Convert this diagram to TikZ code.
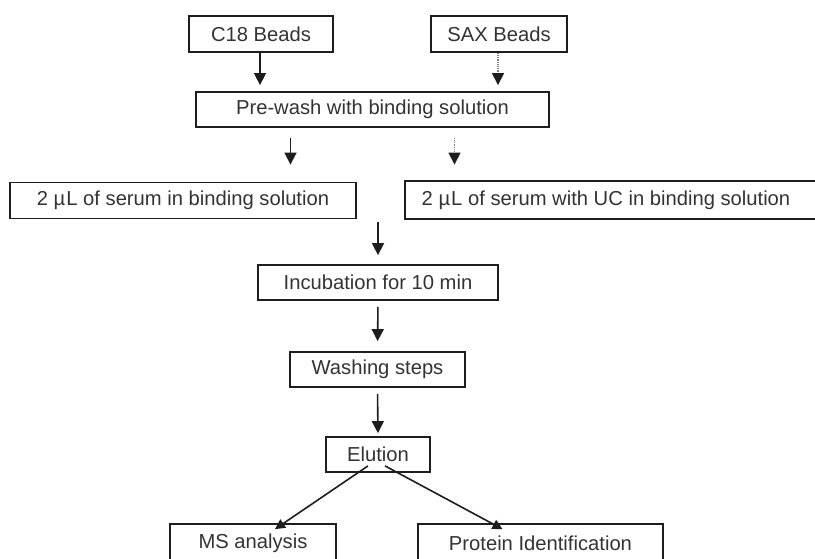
\documentclass[tikz,border=0pt]{standalone}
\usepackage{fontspec}
\setmainfont{Liberation Sans}
\usetikzlibrary{arrows.meta,calc}
\definecolor{ink}{HTML}{1E1E1E}
\definecolor{txt}{HTML}{333333}
\tikzset{
  box/.style={draw=ink, line width=1.8pt, rectangle, inner sep=0pt, text=txt,
    font=\fontsize{20.2}{22}\selectfont},
  arr/.style={draw=ink, line width=1.6pt, -{Triangle[length=12pt,width=12pt]}},
  darr/.style={draw=gray, line width=1.2pt, densely dotted, -{Triangle[length=12pt,width=12pt,fill=ink,color=ink]}},
  sarr/.style={draw=ink, line width=1.6pt, -{Triangle[length=10pt,width=10pt]}},
}
\begin{document}
\begin{tikzpicture}[x=1pt,y=-1pt]
\useasboundingbox (0,0) rectangle (815,559);
\clip (0,0) rectangle (815,559);
\fill[white] (0,0) rectangle (815,559);

\node[box, minimum width=144pt, minimum height=36pt] (c18) at (261,34) {C18 Beads};
\node[box, minimum width=136pt, minimum height=36pt] (sax) at (499,34) {SAX Beads};
\node[box, minimum width=353pt, minimum height=35pt] (pre) at (372.5,109.5) {Pre-wash with binding solution};
\node[box, minimum width=346pt, minimum height=36pt] (left) at (183,200.5) {2 µ\kern1pt L of serum in binding solution};
\node[box, minimum width=420pt, minimum height=38pt] (right) at (615,200) {2 µ\kern1pt L of serum with UC in binding solution\hspace*{18pt}};
\node[box, minimum width=240pt, minimum height=35pt] (inc) at (378,282.5) {Incubation for 10 min};
\node[box, minimum width=175pt, minimum height=35pt] (wash) at (377.5,369.5) {Washing steps};
\node[box, minimum width=104pt, minimum height=35pt] (elu) at (378,454.5) {Elution};
\node[box, minimum width=166pt, minimum height=38pt] (ms) at (253,543) {MS analysis};
\node[box, minimum width=245pt, minimum height=38pt] (prot) at (540.5,543) {Protein Identification};

\draw[arr, shorten >=6pt] ([xshift=-1pt]c18.south) -- ([xshift=-1pt]c18.south |- pre.north);
\draw[darr, shorten >=6pt] ([xshift=-1pt]sax.south) -- ([xshift=-1pt]sax.south |- pre.north);

\draw[arr, shorten <=10pt, shorten >=17pt] ([xshift=-82pt]pre.south) -- ([xshift=-82pt]pre.south |- left.north);
\draw[darr, shorten <=10pt, shorten >=17pt] ([xshift=82pt]pre.south) -- ([xshift=82pt]pre.south |- left.north);

\draw[arr, shorten <=3pt, shorten >=9pt] (inc.north |- left.south) -- (inc.north);
\draw[arr, shorten <=6pt, shorten >=10pt] (inc.south) -- (wash.north);
\draw[arr, shorten <=6pt, shorten >=3pt] (wash.south) -- (elu.north);

\coordinate (e1) at ([xshift=-10pt,yshift=7pt]elu.south);
\coordinate (e2) at ([xshift=7pt,yshift=7pt]elu.south);
\coordinate (m1) at ([xshift=22pt,yshift=-6pt]ms.north);
\coordinate (p1) at ([xshift=-38pt,yshift=-6pt]prot.north);
\draw[sarr] (e1) -- (m1);
\draw[sarr] (e2) -- (p1);
\end{tikzpicture}
\end{document}
